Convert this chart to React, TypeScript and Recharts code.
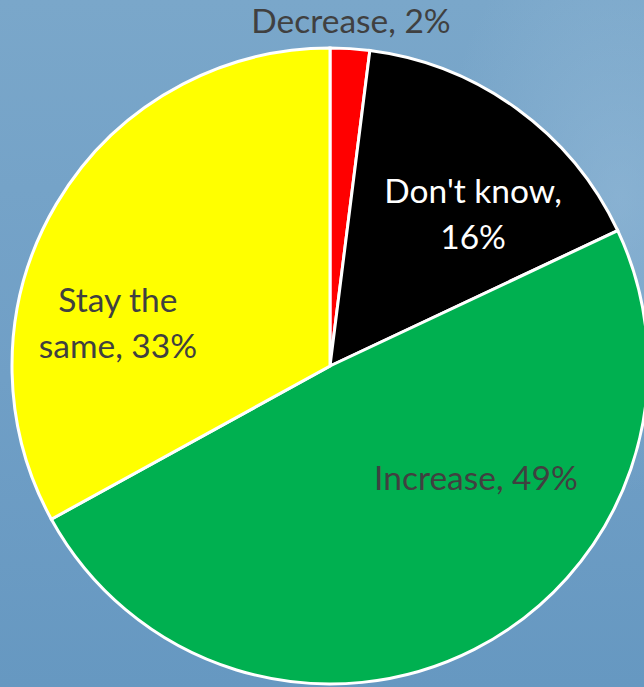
import { PieChart, Pie, Cell } from "recharts";

const categories = ["Decrease", "Don't know", "Increase", "Stay the same"];
const shares = [2, 16, 49, 33];
const colors = ["#FF0000", "#000000", "#00B050", "#FFFF00"];

const data = categories.map((name, i) => ({ name, value: shares[i] }));

// label anchor (first baseline) as fraction of outer radius from centre, and the wrapped lines
const labelPlace: Record<string, { fx: number; fy: number; lines: string[]; fill: string }> = {
  Decrease: { fx: 0.066, fy: -1.047, lines: ["Decrease, 2%"], fill: "#404040" },
  "Don't know": { fx: 0.45, fy: -0.513, lines: ["Don't know,", "16%"], fill: "#FFFFFF" },
  Increase: { fx: 0.459, fy: 0.39, lines: ["Increase, 49%"], fill: "#404040" },
  "Stay the same": { fx: -0.667, fy: -0.17, lines: ["Stay the", "same, 33%"], fill: "#404040" },
};

const renderLabel = (props: any) => {
  const { cx, cy, outerRadius, name } = props;
  const p = labelPlace[name];
  if (!p) return null;
  const x = cx + p.fx * outerRadius;
  const y = cy + p.fy * outerRadius;
  return (
    <text x={x} y={y} textAnchor="middle" fill={p.fill} fontSize={33.5} fontFamily="Lato, 'Open Sans', sans-serif">
      {p.lines.map((l, i) => (
        <tspan key={i} x={x} dy={i === 0 ? 0 : 46}>
          {l}
        </tspan>
      ))}
    </text>
  );
};

export default function App() {
  return (
    <div
      style={{
        position: "absolute",
        left: 0,
        top: 0,
        width: 644,
        height: 687,
        overflow: "hidden",
        background:
          "radial-gradient(ellipse 260px 420px at 620px 200px, rgba(160,195,222,0.45), rgba(160,195,222,0) 70%), linear-gradient(180deg, #7AA7CA 0%, #709FC6 55%, #6698C1 100%)",
      }}
    >
      <PieChart width={644} height={687} margin={{ top: 0, right: 0, bottom: 0, left: 0 }}>
        <Pie
          data={data}
          dataKey="value"
          nameKey="name"
          cx={330}
          cy={366}
          outerRadius={318}
          startAngle={90}
          endAngle={-270}
          stroke="#FFFFFF"
          strokeWidth={3}
          label={renderLabel}
          labelLine={false}
          isAnimationActive={false}
        >
          {data.map((d, i) => (
            <Cell key={d.name} fill={colors[i]} />
          ))}
        </Pie>
      </PieChart>
    </div>
  );
}
